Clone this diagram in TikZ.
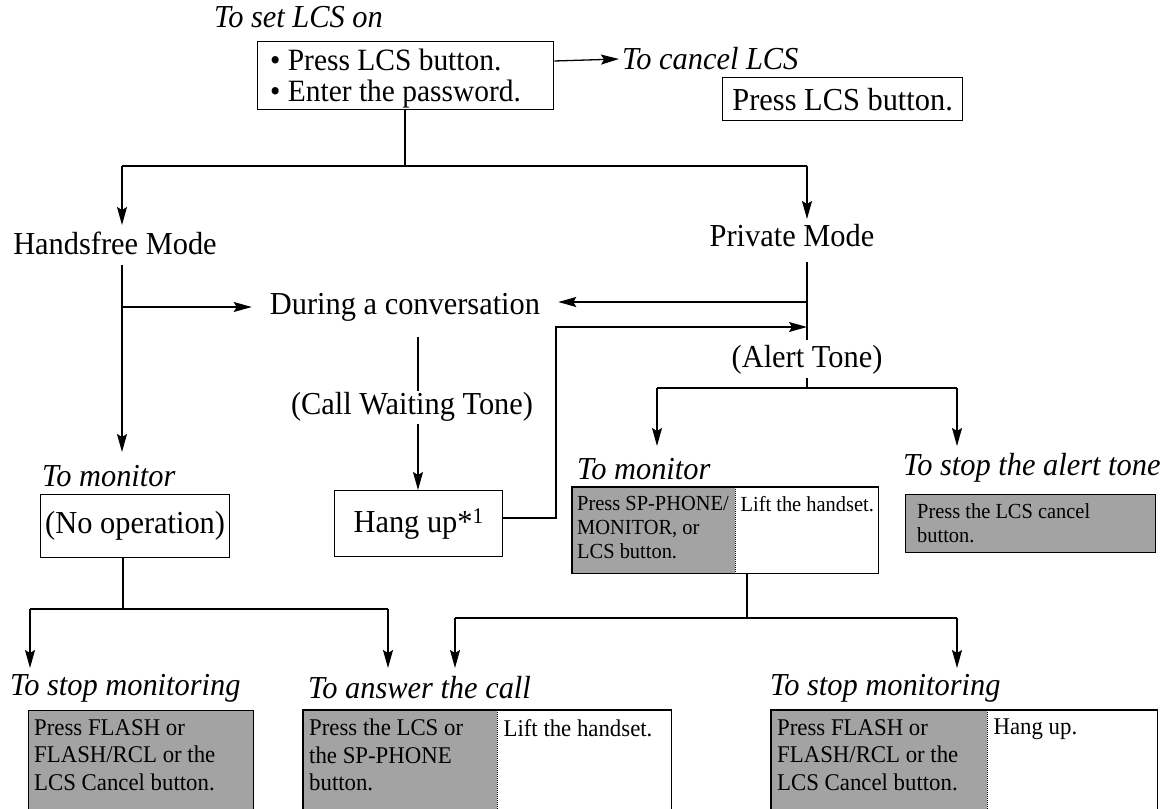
\documentclass[tikz,border=0pt]{standalone}
\usepackage{fontspec}
\setmainfont{Liberation Serif}[FakeStretch=0.95]
\usetikzlibrary{arrows.meta,calc}
\definecolor{shadegray}{RGB}{163,163,163}
\begin{document}
\begin{tikzpicture}[x=1pt,y=-1pt,
  lbl/.style={font=\fontsize{32}{33}\selectfont, inner sep=0pt},
  hd/.style={font=\fontsize{32}{33}\selectfont\itshape, inner sep=0pt, anchor=west},
  bx/.style={draw, line width=1.3pt, anchor=north west},
  cell/.style={anchor=north west, inner sep=0pt},
  midtxt/.style={font=\fontsize{21.5}{24}\selectfont, inner sep=0pt, anchor=north west, align=left},
  bottxt/.style={font=\fontsize{24}{27.5}\selectfont, inner sep=0pt, anchor=north west, align=left},
  conn/.style={line width=1.3pt},
  arr/.style={conn, -{Stealth[length=18pt,width=10pt,inset=3pt]}},
  divider/.style={line width=1pt, densely dotted}
]
\useasboundingbox (0,0) rectangle (1169,808);
\clip (0,0) rectangle (1169,808);

% ---------- top ----------
\node[hd] (setlbl) at (214,17) {To set LCS on};
\node[bx, minimum width=296pt, minimum height=68pt, inner sep=0pt] (box1) at (257,41) {};
\node[font=\fontsize{31}{31}\selectfont, anchor=west, align=left, inner sep=0pt] (box1t) at ($(box1.west)+(13,3)$)
      {\textbullet\ Press LCS button.\\\textbullet\ Enter the password.};
\node[hd] (canlbl) at (622,59) {To cancel LCS};
\node[bx, font=\fontsize{32}{33}\selectfont, minimum width=240pt, minimum height=43pt] (canbox) at (722,77) {Press LCS button.};
\draw[arr] ($(box1.north east)+(0,20)$) -- ($(canlbl.west)+(-3,0)$);

% ---------- modes ----------
\coordinate (top) at (405,166);
\node[lbl] (hf) at (115,243) {Handsfree Mode};
\node[lbl] (pm) at (792,236) {Private Mode};
\coordinate (hfA) at (122,166);
\coordinate (pmA) at (807,166);
\draw[conn] (box1.south -| top) -- (top);
\draw[conn] (hfA) -- (pmA);
\draw[arr] (hfA) -- (122,225);
\draw[arr] (pmA) -- (807,219);

\node[lbl] (conv) at (405,307) {During a conversation};
\coordinate (hfB) at (122,307);
\draw[arr] (hfB) -- ($(conv.west)+(-18,0)$);
\draw[conn] (122,265) -- (hfB);

\coordinate (pmB) at (807,302);
\coordinate (pmC) at (807,327);
\draw[conn] (807,262) -- (807,340);
\draw[arr] (pmB) -- ($(conv.east |- pmB)+(18,0)$);
\node[lbl] (alert) at (807,360) {(Alert Tone)};
\coordinate (alD) at (807,388);
\draw[conn] (807,378) -- (alD);

% ---------- left column ----------
\node[hd] (mon1lbl) at (42,476) {To monitor};
\draw[arr] (hfB) -- (122,452);
\node[bx, font=\fontsize{32}{33}\selectfont, minimum width=189pt, minimum height=63pt, inner sep=0pt] (noop) at (40,494) {(No operation)};

% ---------- call waiting ----------
\node[lbl] (cwt) at (412,407) {(Call Waiting Tone)};
\draw[conn] (418,337) -- (418,391);
\node[bx, font=\fontsize{32}{33}\selectfont, minimum width=168pt, minimum height=66pt, inner sep=0pt] (hang) at (334,490) {Hang up*\textsuperscript{1}};
\draw[arr] (418,424) -- (hang.north -| 418,0);
\coordinate (loopA) at (556,518);
\coordinate (loopB) at (556,327);
\draw[arr] (hang.east |- loopA) -- (loopA) -- (loopB) -- (pmC);

% ---------- right monitor / stop alert ----------
\coordinate (alL) at (657,388);
\coordinate (alR) at (957,388);
\draw[conn] (alL) -- (alR);
\draw[arr] (alL) -- (657,446);
\draw[arr] (alR) -- (957,446);

\node[hd] (mon2lbl) at (577,469) {To monitor};
\node[cell, fill=shadegray, minimum width=163pt, minimum height=86pt] (monL) at (572,487) {};
\node[cell, minimum width=143pt, minimum height=86pt] (monR) at (monL.north east) {};
\draw[conn] (monL.north west) rectangle (monR.south east);
\draw[divider] (monL.north east) -- (monL.south east);
\node[midtxt] (monLt) at ($(monL.north west)+(5,9)$) {Press SP-PHONE/\\MONITOR, or\\LCS button.};
\node[midtxt] (monRt) at ($(monR.north west)+(5,9)$) {Lift the handset.};

\node[hd] (stoplbl) at (903,468) {To stop the alert tone};
\node[bx, fill=shadegray, minimum width=250pt, minimum height=58pt, inner sep=0pt] (stopbox) at (905,494) {};
\node[midtxt] (stopt) at ($(stopbox.north west)+(12,9)$) {Press the LCS cancel\\button.};

% ---------- bottom ----------
\coordinate (nb) at (123,609);
\draw[conn] (noop.south -| nb) -- (nb);
\draw[conn] (30,609) -- (388,609);
\draw[arr] (30,609) -- (30,668);
\draw[arr] (388,609) -- (388,668);

\coordinate (mb) at (747,618);
\draw[conn] (monL.south -| mb) -- (mb);
\draw[conn] (455,618) -- (957,618);
\draw[arr] (455,618) -- (455,668);
\draw[arr] (957,618) -- (957,668);

\node[hd] (bl1) at (10,688) {To stop monitoring};
\node[hd] (bl2) at (308,688) {To answer the call};
\node[hd] (bl3) at (770,688) {To stop monitoring};

\node[bx, fill=shadegray, minimum width=225pt, minimum height=110pt, inner sep=0pt] (b1) at (28,710) {};
\node[bottxt] at ($(b1.north west)+(6,9)$) {Press FLASH or\\FLASH/RCL or the\\LCS Cancel button.};

\node[cell, fill=shadegray, minimum width=194pt, minimum height=110pt] (b2L) at (303,710) {};
\node[cell, minimum width=174pt, minimum height=110pt] (b2R) at (b2L.north east) {};
\draw[conn] (b2L.north west) rectangle (b2R.south east);
\draw[divider] (b2L.north east) -- (b2L.south east);
\node[bottxt] at ($(b2L.north west)+(6,9)$) {Press the LCS or\\the SP-PHONE\\button.};
\node[bottxt] at ($(b2R.north west)+(6,9)$) {Lift the handset.};

\node[cell, fill=shadegray, minimum width=216pt, minimum height=110pt] (b3L) at (771,710) {};
\node[cell, minimum width=170pt, minimum height=110pt] (b3R) at (b3L.north east) {};
\draw[conn] (b3L.north west) rectangle (b3R.south east);
\draw[divider] (b3L.north east) -- (b3L.south east);
\node[bottxt] at ($(b3L.north west)+(6,9)$) {Press FLASH or\\FLASH/RCL or the\\LCS Cancel button.};
\node[bottxt] at ($(b3R.north west)+(6,9)$) {Hang up.};
\end{tikzpicture}
\end{document}
